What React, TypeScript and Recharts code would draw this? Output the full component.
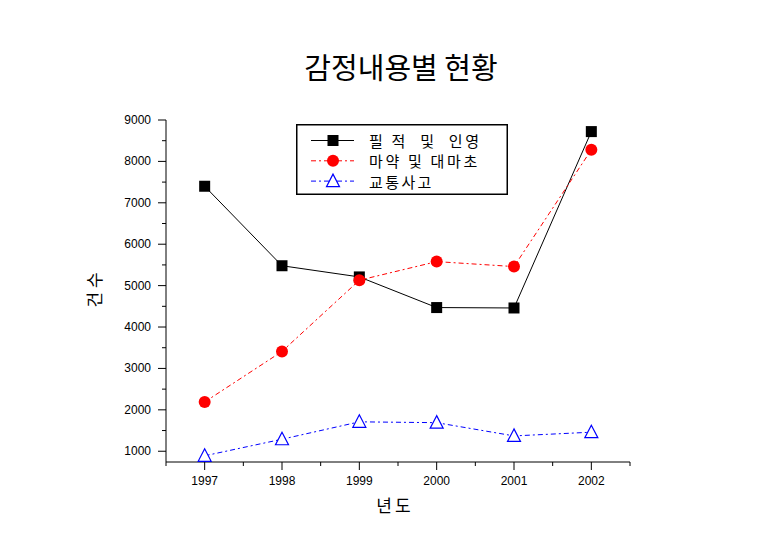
import React from 'react';
import { LineChart, Line, XAxis, YAxis, Legend } from 'recharts';

const years = [1997, 1998, 1999, 2000, 2001, 2002];
const forgery = [7400, 5480, 5210, 4470, 4460, 8720];
const drugs = [2190, 3410, 5130, 5580, 5460, 8280];
const traffic = [890, 1290, 1710, 1690, 1370, 1460];
const seriesNames = ['필 적  및  인영', '마약 및 대마초', '교통사고'];
const xTicks = [1996.5, 1997, 1997.5, 1998, 1998.5, 1999, 1999.5, 2000, 2000.5, 2001, 2001.5, 2002, 2002.5];
const yTicks = [1000, 1500, 2000, 2500, 3000, 3500, 4000, 4500, 5000, 5500, 6000, 6500, 7000, 7500, 8000, 8500, 9000];
const title = '감정내용별 현황';
const xTitle = '년도';
const yTitle = '건 수';

const data = years.map((y, i) => ({ year: y, a: forgery[i], b: drugs[i], c: traffic[i] }));

const KFONT = '"Noto Sans CJK KR", "Noto Sans", sans-serif';
const NFONT = '"Liberation Sans", Arial, sans-serif';

const YTick = (props: any) => {
  const { x, y, payload } = props;
  const major = payload.value % 1000 === 0;
  return (
    <g>
      <line x1={x - (major ? 8 : 4)} y1={y} x2={x} y2={y} stroke="#000" strokeWidth={1} />
      {major && (
        <text x={x - 15} y={y} textAnchor="end" dominantBaseline="central" fontSize={12} fontFamily={NFONT} fill="#000">
          {payload.value}
        </text>
      )}
    </g>
  );
};

const XTick = (props: any) => {
  const { x, y, payload } = props;
  const major = Number.isInteger(payload.value);
  return (
    <g>
      <line x1={x} y1={y} x2={x} y2={y + (major ? 8 : 4)} stroke="#000" strokeWidth={1} />
      {major && (
        <text x={x} y={y + 19} textAnchor="middle" dominantBaseline="central" fontSize={12} fontFamily={NFONT} fill="#000">
          {payload.value}
        </text>
      )}
    </g>
  );
};

const SquareDot = (p: any) => (
  <rect key={`s${p.index}`} x={p.cx - 5.5} y={p.cy - 5.5} width={11} height={11} fill="#000" />
);
const CircleDot = (p: any) => <circle key={`c${p.index}`} cx={p.cx} cy={p.cy} r={6} fill="#ff0000" />;
const TriDot = (p: any) => (
  <polygon
    key={`t${p.index}`}
    points={`${p.cx},${p.cy - 7} ${p.cx - 6.5},${p.cy + 5.5} ${p.cx + 6.5},${p.cy + 5.5}`}
    fill="#fff"
    stroke="#0000ff"
    strokeWidth={1.2}
  />
);

const LegendBox = () => {
  const rows = [
    { color: '#000', dash: undefined, marker: 'sq', name: seriesNames[0], ls: 2.7 },
    { color: '#ff0000', dash: '5 3 2 3', marker: 'ci', name: seriesNames[1], ls: 2.7 },
    { color: '#0000ff', dash: '5 3 2 3', marker: 'tr', name: seriesNames[2], ls: 2.4 },
  ];
  return (
    <svg width={212} height={71} style={{ display: 'block' }}>
      <rect x={0.75} y={0.75} width={210.5} height={69.5} fill="#fff" stroke="#000" strokeWidth={1.5} />
      {rows.map((r, i) => {
        const cy = 16.5 + i * 20.3;
        return (
          <g key={i}>
            <line x1={15} y1={cy} x2={58} y2={cy} stroke={r.color} strokeWidth={1} strokeDasharray={r.dash} />
            {r.marker === 'sq' && <rect x={37 - 5.5} y={cy - 5.5} width={11} height={11} fill="#000" />}
            {r.marker === 'ci' && <circle cx={37} cy={cy} r={6} fill="#ff0000" />}
            {r.marker === 'tr' && (
              <polygon points={`37,${cy - 7} 30.5,${cy + 5.5} 43.5,${cy + 5.5}`} fill="#fff" stroke="#0000ff" strokeWidth={1.2} />
            )}
            <text x={73} y={cy} dominantBaseline="central" fontSize={15} fontFamily={KFONT} fill="#000" letterSpacing={r.ls} style={{ whiteSpace: 'pre' }}>
              {r.name}
            </text>
          </g>
        );
      })}
    </svg>
  );
};

export default function App() {
  return (
    <div style={{ position: 'absolute', left: 0, top: 0, width: 774, height: 542, background: '#fff' }}>
      <div style={{ position: 'absolute', left: 0, top: 47, width: 802, textAlign: 'center', fontFamily: KFONT, fontSize: 29, lineHeight: '38px', color: '#000' }}>
        {title}
      </div>
      <div style={{ position: 'absolute', left: 59, top: 278, width: 70, textAlign: 'center', fontFamily: KFONT, fontSize: 17, lineHeight: '24px', transform: 'rotate(-90deg)', color: '#000' }}>
        {yTitle}
      </div>
      <div style={{ position: 'absolute', left: 345, top: 493, width: 100, textAlign: 'center', fontFamily: KFONT, fontSize: 17, lineHeight: '24px', letterSpacing: 3, color: '#000' }}>
        {xTitle}
      </div>
      <LineChart width={774} height={542} data={data} margin={{ top: 120, right: 144, bottom: 50, left: 106 }}>
        <XAxis
          dataKey="year"
          type="number"
          domain={[1996.5, 2002.5]}
          ticks={xTicks}
          interval={0}
          allowDataOverflow
          tickLine={false}
          tickSize={0}
          tickMargin={0}
          tick={XTick}
          height={30}
          axisLine={{ stroke: '#000', strokeWidth: 1 }}
        />
        <XAxis
          xAxisId="top"
          orientation="top"
          dataKey="year"
          type="number"
          domain={[1996.5, 2002.5]}
          allowDataOverflow
          tick={false}
          tickLine={false}
          height={0}
          axisLine={{ stroke: '#333', strokeWidth: 1 }}
        />
        <YAxis
          type="number"
          domain={[740, 9000]}
          ticks={yTicks}
          interval={0}
          allowDataOverflow
          tickLine={false}
          tickSize={0}
          tickMargin={0}
          tick={YTick}
          width={60}
          axisLine={{ stroke: '#000', strokeWidth: 1 }}
        />
        <YAxis
          yAxisId="right"
          orientation="right"
          type="number"
          domain={[740, 9000]}
          allowDataOverflow
          tick={false}
          tickLine={false}
          width={0}
          axisLine={{ stroke: '#333', strokeWidth: 1 }}
        />
        <Legend
          layout="vertical"
          align="center"
          verticalAlign="middle"
          content={LegendBox}
          wrapperStyle={{ left: 296, top: 124, width: 212, height: 71 }}
        />
        <Line dataKey="a" name={seriesNames[0]} stroke="#000" strokeWidth={1} dot={SquareDot} activeDot={false} isAnimationActive={false} />
        <Line dataKey="b" name={seriesNames[1]} stroke="#ff0000" strokeWidth={1} strokeDasharray="5 3 2 3" dot={CircleDot} activeDot={false} isAnimationActive={false} />
        <Line dataKey="c" name={seriesNames[2]} stroke="#0000ff" strokeWidth={1} strokeDasharray="5 3 2 3" dot={TriDot} activeDot={false} isAnimationActive={false} />
      </LineChart>
    </div>
  );
}
